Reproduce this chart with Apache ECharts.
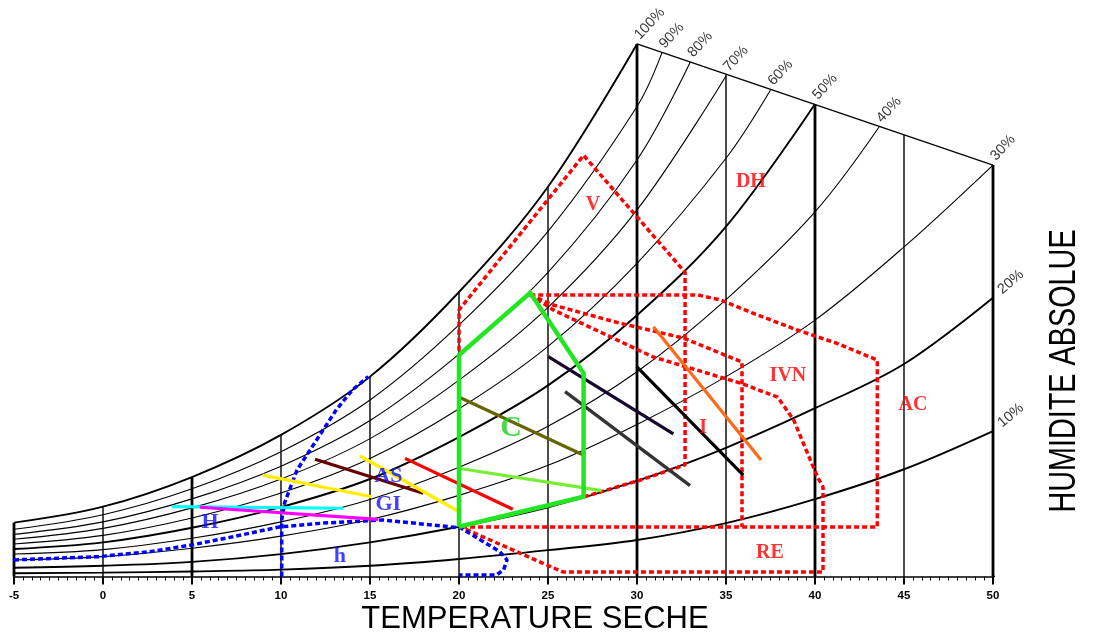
<!DOCTYPE html>
<html>
<head>
<meta charset="utf-8">
<script src="https://cdn.jsdelivr.net/npm/echarts@6/dist/echarts.min.js"></script>
<style>
html,body{margin:0;padding:0;background:#fff;}
#chart{width:1094px;height:635px;}
</style>
</head>
<body>
<div id="chart"></div>
<script>
// Dry-bulb temperature steps (°C)
const tempGrid = [-5, 0, 5, 10, 15, 20, 25, 30, 35, 40, 45, 50];

// Absolute humidity (g/kg) of each relative-humidity curve at tempGrid
const rh100 = [2.76, 3.58, 5.10, 7.26, 10.25, 14.59, 19.99, 27.31];
const rh90  = [2.42, 3.17, 4.5, 6.4, 9.05, 12.9, 17.7, 24.1];
const rh80  = [2.16, 2.8, 3.98, 5.66, 8.0, 11.4, 15.6, 21.36];
const rh70  = [1.91, 2.47, 3.52, 5.0, 7.07, 10.07, 13.8, 18.8, 25.67];
const rh60  = [1.67, 2.11, 3.0, 4.28, 6.05, 8.6, 11.8, 16.06, 21.45];
const rh50  = [1.41, 1.75, 2.5, 3.56, 5.0, 7.15, 9.8, 13.4, 17.94, 24.23];
const rh40  = [1.15, 1.38, 1.96, 2.8, 3.95, 5.6, 7.7, 10.5, 14.2, 18.7];
const rh30  = [0.85, 1.02, 1.45, 2.07, 2.92, 4.16, 5.7, 7.8, 10.25, 13.15, 16.9, 21.1];
const rh20  = [0.45, 0.55, 0.75, 1.15, 1.75, 2.55, 3.55, 4.9, 6.6, 8.63, 10.9, 14.3];
const rh10  = [0.17, 0.2, 0.26, 0.35, 0.55, 0.9, 1.35, 1.87, 2.74, 3.97, 5.5, 7.46];

// Curve labels and where each curve meets the upper limit line [T, W]
const rhNames  = ['100%', '90%', '80%', '70%', '60%', '50%', '40%', '30%', '20%', '10%'];
const rhCurves = [rh100, rh90, rh80, rh70, rh60, rh50, rh40, rh30, rh20, rh10];
const rhEnds   = [[30, 27.31], [31.4, 26.85], [33.0, 26.4], [35, 25.67], [37.5, 24.95],
                  [40, 24.23], [43.6, 23.05], [50, 21.1], [50, 14.3], [50, 7.46]];
const rhHeavy  = ['100%', '50%', '20%', '10%'];

// Upper limit line joining the curve ends
const limitLine = [[30, 27.31], [50, 21.1]];

// Height reached by each vertical temperature line
const gridTops = [2.76, 3.58, 5.10, 7.26, 10.25, 14.59, 19.99, 27.31, 25.76, 24.2, 22.65, 21.1];
const boldTemps = [-5, 5, 30, 40, 50];

// Zones (T °C, W g/kg)
const zoneComfort = [[20, 2.55], [20, 11.36], [24, 14.55], [27, 10.42], [27, 4.09], [20, 2.55]];
const zoneV   = [[20, 2.55], [20, 13.67], [27, 21.6], [32.7, 15.6], [32.7, 5.72], [30.2, 4.95], [27, 4.08], [20, 2.55]];
const zoneIVN = [[24, 14.44], [33.4, 14.44], [34.7, 14.18], [36.5, 13.51], [39, 12.64], [41.2, 11.97],
                 [43.5, 11.1], [43.5, 2.54], [20, 2.54]];
const zoneI   = [[24, 14.44], [25.3, 13.92], [29.0, 13.0], [32.6, 12.23], [35.9, 11.0], [35.9, 2.54]];
const zoneRE  = [[24, 14.44], [25.3, 13.67], [30.9, 11.26], [35.8, 9.92], [37.9, 9.2], [38.8, 8.03],
                 [39.9, 5.62], [40.2, 5.0], [40.45, 4.59], [40.45, 0.23], [25.84, 0.23], [20.06, 2.55]];
const zoneHum = [[-5, 0.85], [-0.2, 1.02], [2.6, 1.27], [5.0, 1.62], [7.3, 2.04], [9.9, 2.54], [12.4, 2.74],
                 [15.7, 2.9], [18.5, 2.64], [20.1, 2.49], [22.3, 1.27], [22.7, 0.85], [22.5, 0.33], [22.1, 0.08], [20, 0.08]];
const zoneHeat = [[10.04, 0], [10.04, 2.9], [10.2, 3.77], [10.9, 5.46], [12, 7.0], [13.1, 8.54], [14.0, 9.56], [14.9, 10.25]];

// Monthly climate lines: [T min, W] -> [T max, W]
const monthLines = [
  [[3.86, 3.58], [13.5, 3.5]],
  [[5.45, 3.55], [15.47, 2.93]],
  [[8.97, 5.2], [15.1, 4.09]],
  [[11.91, 6.01], [17.99, 4.27]],
  [[14.44, 6.18], [20.02, 3.32]],
  [[16.97, 6.06], [23.02, 3.45]],
  [[19.96, 9.22], [26.98, 6.23]],
  [[19.96, 5.55], [28.02, 4.4]],
  [[25.02, 11.27], [32.04, 7.31]],
  [[25.96, 9.48], [32.98, 4.66]],
  [[29.98, 10.76], [35.97, 5.2]],
  [[30.92, 12.81], [36.97, 5.97]]
];
const monthColors = ['#00ffff', '#ff00ff', '#ffee00', '#660000', '#ffee00', '#ff0000',
                     '#666600', '#77ee33', '#16082e', '#333333', '#000000', '#ff6a1a'];

// Zone names and where they are written
const redLabels  = [['V', 27.53, 19.05], ['DH', 36.4, 20.23], ['IVN', 38.48, 10.28], ['I', 33.71, 7.62],
                    ['AC', 45.5, 8.79], ['RE', 37.47, 1.2]];
const blueLabels = [['AS', 16.03, 5.12], ['GI', 16.03, 3.72], ['H', 6.01, 2.78], ['h', 13.31, 1.02]];
const greenLabels = [['C', 22.92, 7.62]];

const serif = '"Liberation Serif", "Times New Roman", serif';
const sans = '"Liberation Sans", Arial, sans-serif';

const series = [];

// Relative humidity curves
rhCurves.forEach((vals, i) => {
  const data = vals.map((w, k) => [tempGrid[k], w]);
  const end = rhEnds[i];
  if (data[data.length - 1][0] !== end[0]) data.push(end);
  series.push({
    type: 'line', data, smooth: 0.35, symbol: 'none', silent: true, z: 2,
    lineStyle: { color: '#000', width: rhHeavy.includes(rhNames[i]) ? 1.9 : 1.1 }
  });
});

// Upper limit line
series.push({ type: 'line', data: limitLine, symbol: 'none', silent: true, z: 2,
  lineStyle: { color: '#000', width: 1.3 } });

// Vertical temperature lines
tempGrid.forEach((t, i) => {
  series.push({
    type: 'line', data: [[t, 0], [t, gridTops[i]]], symbol: 'none', silent: true, z: 3,
    lineStyle: { color: '#000', width: boldTemps.includes(t) ? 2.8 : 1.4 }
  });
});

// Axis line continuing past 50 °C
series.push({ type: 'line', data: [[50, 0], [55.7, 0]], clip: false, symbol: 'none', silent: true, z: 3,
  lineStyle: { color: '#000', width: 1.5 } });

// Curve labels
series.push({
  type: 'scatter', symbolSize: 1, silent: true, z: 10,
  itemStyle: { color: 'rgba(0,0,0,0)' },
  data: rhEnds.map((p, i) => ({
    value: p, name: rhNames[i],
    label: {
      show: true, formatter: rhNames[i], rotate: i >= 8 ? 40 : 47,
      position: i >= 8 ? [12, 0] : [6, -1], align: 'left', verticalAlign: 'bottom',
      fontSize: 14.5, fontFamily: sans, color: '#000'
    }
  }))
});

// Dotted zone limits
const dotted = (data, color) => ({
  type: 'line', data, symbol: 'none', silent: true, z: 5, clip: false,
  lineStyle: { color, width: 3.5, type: [5, 3], cap: 'butt' }
});
[zoneV, zoneIVN, zoneI, zoneRE].forEach(z => series.push(dotted(z, '#ff0000')));
[zoneHum, zoneHeat].forEach(z => series.push(dotted(z, '#0000ff')));

// Monthly lines
monthLines.forEach((seg, i) => {
  series.push({ type: 'line', data: seg, symbol: 'none', silent: true, z: 6,
    lineStyle: { color: monthColors[i], width: 3.2 } });
});

// Comfort zone
series.push({ type: 'line', data: zoneComfort, symbol: 'none', silent: true, z: 7,
  lineStyle: { color: '#22e622', width: 4.5, join: 'miter' } });

// Zone names
const nameSeries = (list, color, size) => ({
  type: 'scatter', symbolSize: 1, silent: true, z: 12,
  itemStyle: { color: 'rgba(0,0,0,0)' },
  data: list.map(l => ({
    value: [l[1], l[2]],
    label: { show: true, formatter: l[0], position: 'inside', fontSize: size,
      fontFamily: serif, fontWeight: 'bold', color }
  }))
});
series.push(nameSeries(redLabels, '#ff0000', 20));
series.push(nameSeries(blueLabels, '#1010ff', 22));
series.push(nameSeries(greenLabels, '#22cc22', 30));

const chart = echarts.init(document.getElementById('chart'), null, { renderer: 'canvas' });
chart.setOption({
  animation: false,
  backgroundColor: '#ffffff',
  grid: { left: 14, right: 101, top: 1.25, bottom: 58.5, containLabel: false },
  xAxis: {
    type: 'value', min: -5, max: 50, interval: 5,
    axisLine: { show: true, onZero: false, lineStyle: { color: '#000', width: 1.5 } },
    axisTick: { show: true, inside: false, length: 8, lineStyle: { color: '#000', width: 2 } },
    minorTick: { show: true, splitNumber: 10, length: 4, lineStyle: { color: '#000', width: 1 } },
    splitLine: { show: false },
    axisLabel: { margin: 13, fontSize: 11.5, fontWeight: 'bold', fontFamily: sans, color: '#000' }
  },
  yAxis: { type: 'value', min: 0, max: 29.5, show: false, splitLine: { show: false } },
  graphic: [
    { type: 'text', x: 535, y: 619, silent: true,
      style: { text: 'TEMPERATURE SECHE', font: '31px ' + sans, fill: '#000', align: 'center', verticalAlign: 'middle' } },
    { type: 'text', x: 1065, y: 371, rotation: Math.PI / 2, scaleX: 0.8, silent: true,
      style: { text: 'HUMIDITE ABSOLUE', font: '36px ' + sans, fill: '#000', align: 'center', verticalAlign: 'middle' } }
  ],
  series
});
</script>
</body>
</html>
